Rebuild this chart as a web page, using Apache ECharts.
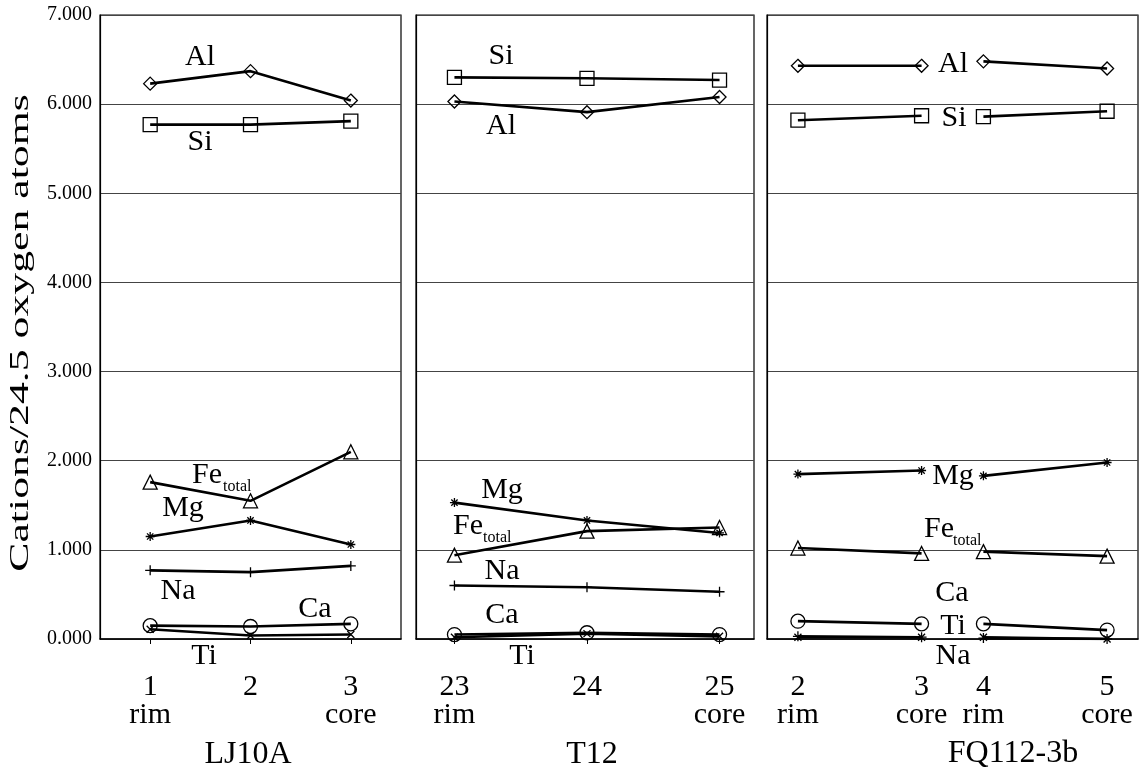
<!DOCTYPE html>
<html>
<head>
<meta charset="utf-8">
<script src="https://cdn.jsdelivr.net/npm/echarts@6/dist/echarts.min.js"></script>
<style>
  html, body { margin: 0; background: #fff; }
  #chart { width: 1147px; height: 772px; }
</style>
</head>
<body>
<div id="chart"></div>
<script>
// ---- data: cations per 24.5 oxygen atoms ----
// LJ10A, spots 1..3
const ljSpots = [1, 2, 3];
const ljLabels = ['1\nrim', '2', '3\ncore'];
const ljAl = [6.23, 6.37, 6.04];
const ljSi = [5.77, 5.77, 5.81];
const ljFe = [1.76, 1.55, 2.10];
const ljMg = [1.15, 1.33, 1.06];
const ljNa = [0.77, 0.75, 0.82];
const ljCa = [0.15, 0.14, 0.17];
const ljTi = [0.11, 0.04, 0.05];

// T12, spots 23..25
const t12Spots = [23, 24, 25];
const t12Labels = ['23\nrim', '24', '25\ncore'];
const t12Si = [6.30, 6.29, 6.27];
const t12Al = [6.03, 5.91, 6.08];
const t12Mg = [1.53, 1.33, 1.19];
const t12Fe = [0.94, 1.21, 1.25];
const t12Na = [0.60, 0.58, 0.53];
const t12Ca = [0.05, 0.07, 0.05];
const t12Ti = [0.02, 0.06, 0.03];

// FQ112-3b, spots 2,3 (grain 1) and 4,5 (grain 2); blank slots leave the gaps
const fqCats = ['2\nrim', '', '3\ncore', '4\nrim', '', '5\ncore'];
const fqAl = [6.43, 6.43, 6.48, 6.40];
const fqSi = [5.82, 5.87, 5.86, 5.92];
const fqMg = [1.85, 1.89, 1.83, 1.98];
const fqFe = [1.02, 0.96, 0.98, 0.93];
const fqCa = [0.20, 0.17, 0.17, 0.10];
const fqTi = [0.02, 0.02, 0.02, 0.00];
const fqNa = [0.03, 0.02, 0.01, 0.00];

const yTickLabels = ['0.000', '1.000', '2.000', '3.000', '4.000', '5.000', '6.000', '7.000'];

// ---- styling ----
const FONT = 'Liberation Serif';
const plusPath = 'path://M5 0V10M0 5H10';
const starPath = 'path://M5 0V10M0 5H10M1.5 1.5L8.5 8.5M8.5 1.5L1.5 8.5';
const crossPath = 'path://M0 0L10 10M10 0L0 10';
const marks = {
  Al: ['diamond', 13], Si: ['rect', 14], Fe: ['triangle', 14], Mg: [starPath, 9],
  Na: [plusPath, 10], Ca: ['circle', 14], Ti: [crossPath, 7]
};

function line(el, data, gi) {
  return {
    type: 'line', name: el, xAxisIndex: gi, yAxisIndex: gi, data: data,
    symbol: marks[el][0], symbolSize: marks[el][1], showAllSymbol: true,
    lineStyle: { color: '#000', width: 2.6 },
    itemStyle: { color: 'rgba(0,0,0,0)', borderColor: '#000', borderWidth: 1.3 },
    emphasis: { disabled: true }, silent: true, animation: false
  };
}

const series = [];
const lj = { Al: ljAl, Si: ljSi, Fe: ljFe, Mg: ljMg, Na: ljNa, Ca: ljCa, Ti: ljTi };
const t12 = { Al: t12Al, Si: t12Si, Fe: t12Fe, Mg: t12Mg, Na: t12Na, Ca: t12Ca, Ti: t12Ti };
const fq = { Al: fqAl, Si: fqSi, Fe: fqFe, Mg: fqMg, Na: fqNa, Ca: fqCa, Ti: fqTi };
const fqSlots = fqCats.map((c, i) => c ? i : -1).filter(i => i >= 0);

Object.keys(lj).forEach(el => {
  series.push(line(el, ljSpots.map((x, i) => [x, lj[el][i]]), 0));
  series.push(line(el, t12Spots.map((x, i) => [x, t12[el][i]]), 1));
  series.push(line(el, fqSlots.slice(0, 2).map((x, i) => [x, fq[el][i]]), 2));
  series.push(line(el, fqSlots.slice(2).map((x, i) => [x, fq[el][i + 2]]), 2));
});

const grids = [
  { left: 100, top: 15, width: 301, bottom: 133 },
  { left: 416, top: 15, width: 338, bottom: 133 },
  { left: 767, top: 15, width: 371, bottom: 133 }
].map(g => Object.assign(g, { show: true, borderColor: '#000', borderWidth: 1.2, containLabel: false }));

const tickLabel = { fontFamily: FONT, fontSize: 30, lineHeight: 28, color: '#000', margin: 34 };
const xAxes = [
  {
    type: 'value', gridIndex: 0, min: 0.5, max: 3.5,
    axisLine: { lineStyle: { color: '#000', width: 1.5 } },
    axisTick: { customValues: ljSpots, length: 5, lineStyle: { color: '#000' } },
    axisLabel: Object.assign({ customValues: ljSpots, formatter: v => ljLabels[ljSpots.indexOf(v)] }, tickLabel),
    splitLine: { show: false }
  },
  {
    type: 'value', gridIndex: 1, min: 22.71, max: 25.26,
    axisLine: { lineStyle: { color: '#000', width: 1.5 } },
    axisTick: { customValues: t12Spots, length: 5, lineStyle: { color: '#000' } },
    axisLabel: Object.assign({ customValues: t12Spots, formatter: v => t12Labels[t12Spots.indexOf(v)] }, tickLabel),
    splitLine: { show: false }
  },
  {
    type: 'category', gridIndex: 2, data: fqCats,
    axisLine: { lineStyle: { color: '#000', width: 1.5 } },
    axisTick: { alignWithLabel: true, length: 5, interval: i => fqCats[i] !== '', lineStyle: { color: '#000' } },
    axisLabel: Object.assign({ interval: 0 }, tickLabel),
    splitLine: { show: false }
  }
];

const yAxes = [0, 1, 2].map(i => ({
  type: 'value', gridIndex: i, min: 0, max: 7, interval: 1,
  axisLine: { show: true, lineStyle: { color: '#000', width: 1.2 } },
  axisTick: { show: false },
  axisLabel: {
    show: i === 0, formatter: v => yTickLabels[v], fontFamily: FONT, fontSize: 20,
    color: '#000', margin: 8
  },
  splitLine: { show: true, lineStyle: { color: '#444', width: 1 } }
}));

// ---- text annotations ----
const elLabels = [
  ['Al', 200, 57], ['Si', 200, 142], ['Mg', 183, 508], ['Na', 178, 591], ['Ca', 315, 609], ['Ti', 204, 656],
  ['Si', 501, 56], ['Al', 501, 126], ['Mg', 502, 490], ['Na', 502, 571], ['Ca', 502, 615], ['Ti', 522, 656],
  ['Al', 953, 64], ['Si', 954, 118], ['Mg', 953, 476], ['Ca', 952, 593], ['Ti', 953, 626], ['Na', 953, 656]
];
const feLabels = [[192, 475, 223, 487], [453, 526, 483, 538], [924, 529, 953, 541]];
const titles = [['LJ10A', 248, 755], ['T12', 592, 755], ['FQ112-3b', 1013, 754]];

const graphic = [];
elLabels.forEach(([t, x, y]) => graphic.push({
  type: 'text', x: x, y: y, silent: true,
  style: { text: t, font: '30px "' + FONT + '"', fill: '#000', align: 'center', verticalAlign: 'middle' }
}));
feLabels.forEach(([x, y, sx, sy]) => {
  graphic.push({ type: 'text', x: x, y: y, silent: true,
    style: { text: 'Fe', font: '30px "' + FONT + '"', fill: '#000', align: 'left', verticalAlign: 'middle' } });
  graphic.push({ type: 'text', x: sx, y: sy, silent: true,
    style: { text: 'total', font: '16px "' + FONT + '"', fill: '#000', align: 'left', verticalAlign: 'middle' } });
});
titles.forEach(([t, x, y]) => graphic.push({
  type: 'text', x: x, y: y, silent: true,
  style: { text: t, font: '32px "' + FONT + '"', fill: '#000', align: 'center', verticalAlign: 'middle' }
}));
graphic.push({
  type: 'text', x: 21, y: 333, rotation: Math.PI / 2, scaleX: 1.62, silent: true,
  style: { text: 'Cations/24.5 oxygen atoms', font: '27px "' + FONT + '"', fill: '#000',
    align: 'center', verticalAlign: 'middle' }
});

const chart = echarts.init(document.getElementById('chart'));
chart.setOption({
  animation: false,
  backgroundColor: '#fff',
  grid: grids,
  xAxis: xAxes,
  yAxis: yAxes,
  series: series,
  graphic: graphic
});
</script>
</body>
</html>
